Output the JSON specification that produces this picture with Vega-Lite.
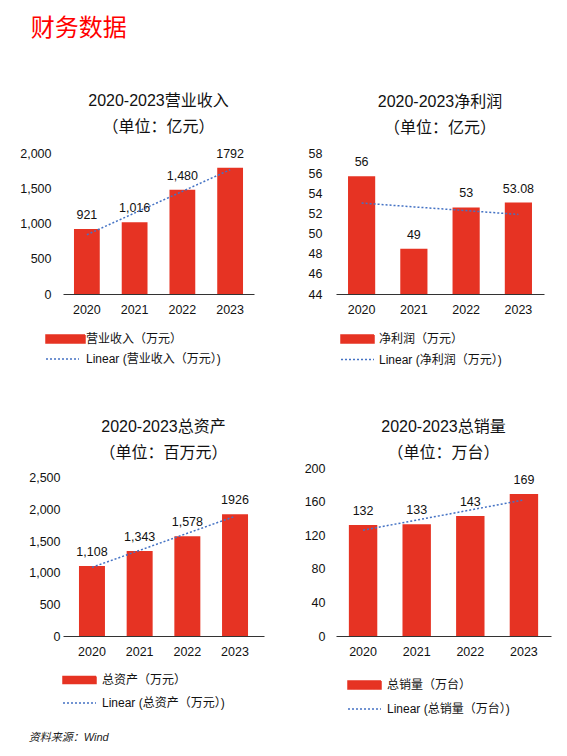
{
  "$schema": "https://vega.github.io/schema/vega-lite/v6.json",
  "padding": {"left": 19, "top": 16, "right": 5, "bottom": 5},
  "background": "white",
  "config": {
    "view": {"stroke": null},
    "font": "Liberation Sans, Noto Sans CJK SC",
    "axis": {"labelFont": "Liberation Sans, Noto Sans CJK SC", "labelFontSize": 12.5, "labelColor": "#111", "ticks": false, "grid": false, "title": null},
    "axisX": {"domainColor": "#333", "domainWidth": 1, "labelAngle": 0, "labelPadding": 9},
    "axisY": {"domain": false},
    "title": {"font": "Liberation Sans, Noto Sans CJK SC", "fontSize": 16, "fontWeight": "normal", "color": "#111", "lineHeight": 26, "offset": 16},
    "legend": {"labelFont": "Liberation Sans, Noto Sans CJK SC", "labelFontSize": 12, "labelColor": "#111", "labelLimit": 400, "orient": "none", "direction": "vertical", "rowPadding": 10, "labelOffset": 26, "symbolSize": 144, "title": null}
  },
  "title": {"text": "财务数据", "anchor": "start", "color": "#ff0000", "fontSize": 24, "font": "Noto Sans CJK SC", "fontWeight": "normal", "offset": 52.5, "dx": 11},
  "vconcat": [
    {
      "title": {"text": "资料来源：Wind", "orient": "bottom", "anchor": "start", "fontSize": 11, "fontStyle": "italic", "color": "#222", "offset": 17, "lineHeight": 14, "dx": 9},
      "columns": 2,
      "bounds": "flush",
      "spacing": {"row": 174, "column": 72},
      "resolve": {"scale": {"color": "independent", "y": "independent", "x": "independent"}, "legend": {"color": "independent"}, "axis": {"x": "independent", "y": "independent"}},
      "concat": [
        {
          "width": 191, "height": 141,
          "title": {"text": ["2020-2023营业收入", "（单位：亿元）"], "offset": 12},
          "data": {"values": [
            {"year": "2020", "value": 921, "label": "921", "trend": 841},
            {"year": "2021", "value": 1016, "label": "1,016", "trend": 1149},
            {"year": "2022", "value": 1480, "label": "1,480", "trend": 1456},
            {"year": "2023", "value": 1792, "label": "1792", "trend": 1763}
          ]},
          "encoding": {"x": {"field": "year", "type": "nominal", "sort": null, "scale": {"paddingInner": 0.46, "paddingOuter": 0.23}}},
          "layer": [
            {"mark": {"type": "bar"}, "encoding": {
              "y": {"field": "value", "type": "quantitative", "scale": {"domain": [0, 2000], "nice": false}, "axis": {"values": [0, 500, 1000, 1500, 2000], "format": ",.0f", "labelPadding": 12}},
              "color": {"datum": "营业收入（万元）", "type": "nominal", "scale": {"domain": ["营业收入（万元）", "Linear (营业收入（万元）)"], "range": ["#e63323", "#4472c4"]},
                "legend": {"legendX": -18, "legendY": 179, "labelOffset": 27, "rowPadding": 5,
                  "encode": {"symbols": {"update": {
                    "shape": {"signal": "datum.index === 0 ? 'M-1,-0.667H5.5V0.667H-1Z' : 'M-1,0H4.5'"},
                    "fill": {"signal": "datum.index === 0 ? '#e63323' : 'transparent'"},
                    "stroke": {"signal": "datum.index === 0 ? 'transparent' : '#4472c4'"},
                    "strokeDash": {"signal": "datum.index === 0 ? [1, 0] : [2, 2]"},
                    "strokeWidth": {"value": 1.5}, "opacity": {"value": 1}}}}}}
            }},
            {"mark": {"type": "text", "dy": -14, "baseline": "middle", "fontSize": 12.5, "color": "#111"}, "encoding": {"y": {"field": "value", "type": "quantitative", "axis": {"values": [0, 500, 1000, 1500, 2000], "format": ",.0f", "labelPadding": 12}}, "text": {"field": "label"}}},
            {"mark": {"type": "line", "strokeDash": [2, 2], "strokeWidth": 1.5}, "encoding": {"y": {"field": "trend", "type": "quantitative", "axis": {"values": [0, 500, 1000, 1500, 2000], "format": ",.0f", "labelPadding": 12}}, "color": {"datum": "Linear (营业收入（万元）)", "type": "nominal"}}}
          ]
        },
        {
          "width": 208, "height": 141,
          "title": {"text": ["2020-2023净利润", "（单位：亿元）"], "offset": 11.5},
          "data": {"values": [
            {"year": "2020", "value": 55.7, "label": "56", "trend": 53.03},
            {"year": "2021", "value": 48.5, "label": "49", "trend": 52.65},
            {"year": "2022", "value": 52.6, "label": "53", "trend": 52.28},
            {"year": "2023", "value": 53.08, "label": "53.08", "trend": 51.9}
          ]},
          "encoding": {"x": {"field": "year", "type": "nominal", "sort": null, "scale": {"paddingInner": 0.48, "paddingOuter": 0.23}}},
          "layer": [
            {"mark": {"type": "bar"}, "encoding": {
              "y": {"field": "value", "type": "quantitative", "scale": {"domain": [44, 58], "nice": false, "zero": false}, "axis": {"values": [44, 46, 48, 50, 52, 54, 56, 58], "format": ".0f", "labelPadding": 14}},
              "y2": {"datum": 44},
              "color": {"datum": "净利润（万元）", "type": "nominal", "scale": {"domain": ["净利润（万元）", "Linear (净利润（万元）)"], "range": ["#e63323", "#4472c4"]},
                "legend": {"legendX": 4, "legendY": 179, "labelOffset": 25, "rowPadding": 5.5,
                  "encode": {"symbols": {"update": {
                    "shape": {"signal": "datum.index === 0 ? 'M-1,-0.667H4.5V0.667H-1Z' : 'M-1,0H4.5'"},
                    "fill": {"signal": "datum.index === 0 ? '#e63323' : 'transparent'"},
                    "stroke": {"signal": "datum.index === 0 ? 'transparent' : '#4472c4'"},
                    "strokeDash": {"signal": "datum.index === 0 ? [1, 0] : [2, 2]"},
                    "strokeWidth": {"value": 1.5}, "opacity": {"value": 1}}}}}}
            }},
            {"mark": {"type": "text", "dy": -14, "baseline": "middle", "fontSize": 12.5, "color": "#111"}, "encoding": {"y": {"field": "value", "type": "quantitative", "axis": {"values": [44, 46, 48, 50, 52, 54, 56, 58], "format": ".0f", "labelPadding": 14}}, "text": {"field": "label"}}},
            {"mark": {"type": "line", "strokeDash": [2, 2], "strokeWidth": 1.5}, "encoding": {"y": {"field": "trend", "type": "quantitative", "axis": {"values": [44, 46, 48, 50, 52, 54, 56, 58], "format": ".0f", "labelPadding": 14}}, "color": {"datum": "Linear (净利润（万元）)", "type": "nominal"}}}
          ]
        },
        {
          "width": 201, "height": 168,
          "title": {"text": ["2020-2023总资产", "（单位：百万元）"], "offset": 7},
          "data": {"values": [
            {"year": "2020", "value": 1108, "label": "1,108", "trend": 1085},
            {"year": "2021", "value": 1343, "label": "1,343", "trend": 1354},
            {"year": "2022", "value": 1578, "label": "1,578", "trend": 1623},
            {"year": "2023", "value": 1926, "label": "1926", "trend": 1892}
          ]},
          "encoding": {"x": {"field": "year", "type": "nominal", "sort": null, "scale": {"paddingInner": 0.455, "paddingOuter": 0.335}}},
          "layer": [
            {"mark": {"type": "bar"}, "encoding": {
              "y": {"field": "value", "type": "quantitative", "scale": {"domain": [0, 2655], "nice": false}, "axis": {"values": [0, 500, 1000, 1500, 2000, 2500], "format": ",.0f", "labelPadding": 3}},
              "color": {"datum": "总资产（万元）", "type": "nominal", "scale": {"domain": ["总资产（万元）", "Linear (总资产（万元）)"], "range": ["#e63323", "#4472c4"]},
                "legend": {"legendX": -1, "legendY": 205, "labelOffset": 26, "rowPadding": 9,
                  "encode": {"symbols": {"update": {
                    "shape": {"signal": "datum.index === 0 ? 'M-1,-0.6H4.5V0.6H-1Z' : 'M-1,0H4.5'"},
                    "fill": {"signal": "datum.index === 0 ? '#e63323' : 'transparent'"},
                    "stroke": {"signal": "datum.index === 0 ? 'transparent' : '#4472c4'"},
                    "strokeDash": {"signal": "datum.index === 0 ? [1, 0] : [2, 2]"},
                    "strokeWidth": {"value": 1.5}, "opacity": {"value": 1}}}}}}
            }},
            {"mark": {"type": "text", "dy": -14, "baseline": "middle", "fontSize": 12.5, "color": "#111"}, "encoding": {"y": {"field": "value", "type": "quantitative", "axis": {"values": [0, 500, 1000, 1500, 2000, 2500], "format": ",.0f", "labelPadding": 3}}, "text": {"field": "label"}}},
            {"mark": {"type": "line", "strokeDash": [2, 2], "strokeWidth": 1.5}, "encoding": {"y": {"field": "trend", "type": "quantitative", "axis": {"values": [0, 500, 1000, 1500, 2000, 2500], "format": ",.0f", "labelPadding": 3}}, "color": {"datum": "Linear (总资产（万元）)", "type": "nominal"}}}
          ]
        },
        {
          "width": 215, "height": 168,
          "title": {"text": ["2020-2023总销量", "（单位：万台）"], "offset": 1},
          "data": {"values": [
            {"year": "2020", "value": 132, "label": "132", "trend": 126},
            {"year": "2021", "value": 133, "label": "133", "trend": 138},
            {"year": "2022", "value": 143, "label": "143", "trend": 150},
            {"year": "2023", "value": 169, "label": "169", "trend": 162}
          ]},
          "encoding": {"x": {"field": "year", "type": "nominal", "sort": null, "scale": {"paddingInner": 0.47, "paddingOuter": 0.24}}},
          "layer": [
            {"mark": {"type": "bar"}, "encoding": {
              "y": {"field": "value", "type": "quantitative", "scale": {"domain": [0, 200], "nice": false}, "axis": {"values": [0, 40, 80, 120, 160, 200], "format": ".0f", "labelPadding": 11}},
              "color": {"datum": "总销量（万台）", "type": "nominal", "scale": {"domain": ["总销量（万台）", "Linear (总销量（万台）)"], "range": ["#e63323", "#4472c4"]},
                "legend": {"legendX": 11, "legendY": 210, "labelOffset": 26, "rowPadding": 9,
                  "encode": {"symbols": {"update": {
                    "shape": {"signal": "datum.index === 0 ? 'M-1,-0.667H4.5V0.667H-1Z' : 'M-1,0H4.5'"},
                    "fill": {"signal": "datum.index === 0 ? '#e63323' : 'transparent'"},
                    "stroke": {"signal": "datum.index === 0 ? 'transparent' : '#4472c4'"},
                    "strokeDash": {"signal": "datum.index === 0 ? [1, 0] : [2, 2]"},
                    "strokeWidth": {"value": 1.5}, "opacity": {"value": 1}}}}}}
            }},
            {"mark": {"type": "text", "dy": -14, "baseline": "middle", "fontSize": 12.5, "color": "#111"}, "encoding": {"y": {"field": "value", "type": "quantitative", "axis": {"values": [0, 40, 80, 120, 160, 200], "format": ".0f", "labelPadding": 11}}, "text": {"field": "label"}}},
            {"mark": {"type": "line", "strokeDash": [2, 2], "strokeWidth": 1.5}, "encoding": {"y": {"field": "trend", "type": "quantitative", "axis": {"values": [0, 40, 80, 120, 160, 200], "format": ".0f", "labelPadding": 11}}, "color": {"datum": "Linear (总销量（万台）)", "type": "nominal"}}}
          ]
        }
      ]
    }
  ]
}
